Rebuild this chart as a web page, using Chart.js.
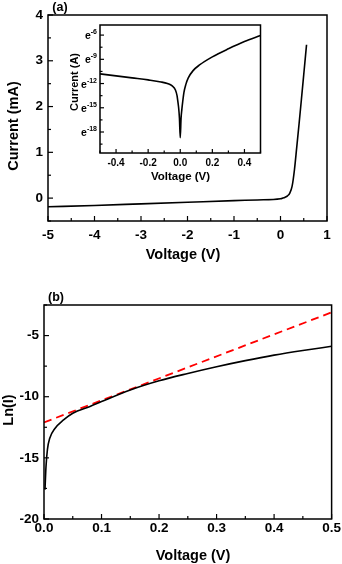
<!DOCTYPE html>
<html>
<head>
<meta charset="utf-8">
<script src="https://cdn.jsdelivr.net/npm/chart.js@4.4.1/dist/chart.umd.min.js"></script>
<style>
  body { margin: 0; background: #fff; }
  #wrap { position: relative; width: 342px; height: 564px; }
  canvas { position: absolute; }
  #ivChart { left: 0; top: 0; }
  #insetChart { left: 58px; top: 20px; }
  #lnChart { left: 0; top: 280px; }
</style>
</head>
<body>
<div id="wrap">
  <canvas id="ivChart" width="342" height="280"></canvas>
  <canvas id="insetChart" width="206" height="168"></canvas>
  <canvas id="lnChart" width="342" height="284"></canvas>
</div>
<script>
// (a) I-V curve, current in mA
const ivVoltage = [-5, -4, -3, -2, -1, -0.5, 0, 0.05, 0.1, 0.15, 0.2, 0.25, 0.3, 0.35, 0.4, 0.45, 0.5, 0.56];
const ivCurrent = [-0.19, -0.16, -0.125, -0.09, -0.055, -0.04, -0.015, 0.0, 0.02, 0.05, 0.11, 0.26, 0.62, 1.12, 1.63, 2.16, 2.7, 3.35];
const ivXTicks = [-5, -4, -3, -2, -1, 0, 1];
const ivYTicks = [0, 1, 2, 3, 4];

// inset: ln of current (A)
const insetVoltage = [-0.5, -0.4, -0.3, -0.2, -0.12, -0.08, -0.05, -0.03, -0.02, -0.015, -0.01, -0.005, 0, 0.005, 0.01, 0.015, 0.023, 0.035, 0.05, 0.08, 0.12, 0.2, 0.3, 0.4, 0.5];
const insetLn = [-10.8, -11.05, -11.3, -11.55, -11.8, -12.0, -12.3, -12.8, -13.5, -14.2, -15.0, -16.3, -18.7, -16.3, -15.2, -14.3, -13.1, -12.1, -11.3, -10.4, -9.7, -8.7, -7.7, -6.8, -6.05];
const insetXTicks = [-0.4, -0.2, 0, 0.2, 0.4];
const insetYTicks = [-6, -9, -12, -15, -18];

// (b) Ln(I) vs V with linear fit
const lnVoltage = [0.0017, 0.0035, 0.006, 0.01, 0.019, 0.034, 0.05, 0.08, 0.1, 0.15, 0.2, 0.25, 0.3, 0.35, 0.4, 0.45, 0.5];
const lnCurrent = [-17.6, -15.7, -14.3, -13.4, -12.6, -11.9, -11.35, -10.8, -10.4, -9.45, -8.7, -8.1, -7.55, -7.05, -6.6, -6.22, -5.88];
const fitVoltage = [0, 0.5];
const fitLn = [-12.1, -3.1];
const lnXTicks = [0, 0.1, 0.2, 0.3, 0.4, 0.5];
const lnYTicks = [-20, -15, -10, -5];

const FONT = "'Liberation Sans', Arial, sans-serif";
Chart.defaults.font.family = FONT;
Chart.defaults.font.weight = 'bold';
Chart.defaults.color = '#000';

const pts = (xs, ys) => xs.map((x, i) => ({ x: x, y: ys[i] }));
const noGrid = { display: false, drawTicks: false, tickLength: 0 };

// box around the plot with inward ticks on bottom and left
const framePlugin = {
  id: 'frame',
  afterDraw(chart, args, opts) {
    const { ctx, chartArea: a, scales } = chart;
    ctx.save();
    ctx.strokeStyle = '#000';
    ctx.lineWidth = 1.5;
    ctx.strokeRect(a.left, a.top, a.right - a.left, a.bottom - a.top);
    ctx.lineWidth = 1.2;
    const drawTicks = (scale, step, isX) => {
      const majors = scale.ticks.map(t => t.value);
      const k0 = Math.ceil(scale.min / step - 1e-9), k1 = Math.floor(scale.max / step + 1e-9);
      for (let k = k0; k <= k1; k++) {
        const v = k * step;
        const major = majors.some(m => Math.abs(m - v) < step / 10);
        const len = major ? opts.major : opts.minor;
        const p = scale.getPixelForValue(v);
        ctx.beginPath();
        if (isX) { ctx.moveTo(p, a.bottom); ctx.lineTo(p, a.bottom - len); }
        else { ctx.moveTo(a.left, p); ctx.lineTo(a.left + len, p); }
        ctx.stroke();
      }
    };
    drawTicks(scales.x, opts.xStep, true);
    drawTicks(scales.y, opts.yStep, false);
    ctx.restore();
  }
};

// free text: panel letters and axis titles
const textPlugin = {
  id: 'texts',
  afterDraw(chart, args, opts) {
    const ctx = chart.ctx;
    (opts.items || []).forEach(t => {
      ctx.save();
      ctx.font = 'bold ' + t.size + 'px ' + FONT;
      ctx.fillStyle = '#000';
      ctx.textAlign = 'center';
      ctx.textBaseline = 'middle';
      ctx.translate(t.x, t.y);
      if (t.rot) ctx.rotate(-Math.PI / 2);
      ctx.fillText(t.text, 0, 0);
      ctx.restore();
    });
  }
};

// y tick labels written as e with a raised exponent
const expTickPlugin = {
  id: 'expTicks',
  afterDraw(chart, args, opts) {
    const { ctx, chartArea: a, scales } = chart;
    const y = scales.y;
    ctx.save();
    ctx.fillStyle = '#000';
    ctx.textBaseline = 'alphabetic';
    y.ticks.forEach(t => {
      const py = y.getPixelForValue(t.value);
      const sup = String(t.value);
      ctx.font = 'bold ' + opts.supSize + 'px ' + FONT;
      const w = ctx.measureText(sup).width;
      const xr = a.left - opts.padding;
      ctx.textAlign = 'left';
      ctx.fillText(sup, xr - w, py - 1);
      ctx.font = 'bold ' + opts.size + 'px ' + FONT;
      ctx.textAlign = 'right';
      ctx.fillText('e', xr - w, py + 4);
    });
    ctx.restore();
  }
};

const blackLine = data => ({
  data: data,
  borderColor: '#000',
  borderWidth: 1.6,
  pointRadius: 0,
  fill: false,
  cubicInterpolationMode: 'monotone'
});

// ---------- (a) ----------
new Chart(document.getElementById('ivChart'), {
  type: 'line',
  data: { datasets: [blackLine(pts(ivVoltage, ivCurrent))] },
  plugins: [framePlugin, textPlugin],
  options: {
    responsive: false,
    animation: false,
    layout: { padding: { left: 0, right: 15, top: 15, bottom: 29 } },
    plugins: {
      legend: { display: false },
      tooltip: { enabled: false },
      frame: { xStep: 0.5, yStep: 0.5, major: 5, minor: 3 },
      texts: { items: [
        { text: '(a)', x: 60, y: 7.5, size: 12.5 },
        { text: 'Current (mA)', x: 14, y: 126, size: 14.5, rot: true },
        { text: 'Voltage (V)', x: 183, y: 254.5, size: 14.5 }
      ] }
    },
    scales: {
      x: {
        type: 'linear', min: -5, max: 1,
        afterBuildTicks: s => { s.ticks = ivXTicks.map(v => ({ value: v })); },
        afterFit: s => { s.height = 30; },
        grid: noGrid, border: { display: false },
        ticks: { font: { size: 13.5 }, padding: 6, maxRotation: 0, autoSkip: false }
      },
      y: {
        min: -0.5, max: 4,
        afterBuildTicks: s => { s.ticks = ivYTicks.map(v => ({ value: v })); },
        afterFit: s => { s.width = 48; },
        grid: noGrid, border: { display: false },
        ticks: { font: { size: 13.5 }, padding: 5 }
      }
    }
  }
});

// ---------- inset ----------
new Chart(document.getElementById('insetChart'), {
  type: 'line',
  data: { datasets: [blackLine(pts(insetVoltage, insetLn))] },
  plugins: [framePlugin, textPlugin, expTickPlugin],
  options: {
    responsive: false,
    animation: false,
    layout: { padding: { left: 0, right: 3.5, top: 5, bottom: 15 } },
    plugins: {
      legend: { display: false },
      tooltip: { enabled: false },
      frame: { xStep: 0.1, yStep: 1.5, major: 4, minor: 2.5 },
      expTicks: { size: 10.5, supSize: 7, padding: 3 },
      texts: { items: [
        { text: 'Current (A)', x: 17, y: 62, size: 11, rot: true },
        { text: 'Voltage (V)', x: 122.5, y: 157, size: 11.5 }
      ] }
    },
    scales: {
      x: {
        type: 'linear', min: -0.5, max: 0.5,
        afterBuildTicks: s => { s.ticks = insetXTicks.map(v => ({ value: v })); },
        afterFit: s => { s.height = 20; },
        grid: noGrid, border: { display: false },
        ticks: { font: { size: 10 }, padding: 4, maxRotation: 0, autoSkip: false,
                 callback: v => v.toFixed(1) }
      },
      y: {
        min: -20.6, max: -4.75,
        afterBuildTicks: s => { s.ticks = insetYTicks.map(v => ({ value: v })); },
        afterFit: s => { s.width = 42; },
        grid: noGrid, border: { display: false },
        ticks: { display: false }
      }
    }
  }
});

// ---------- (b) ----------
new Chart(document.getElementById('lnChart'), {
  type: 'line',
  data: {
    datasets: [
      blackLine(pts(lnVoltage, lnCurrent)),
      {
        data: pts(fitVoltage, fitLn),
        borderColor: '#ff0000',
        borderWidth: 1.8,
        borderDash: [8, 5],
        pointRadius: 0,
        fill: false
      }
    ]
  },
  plugins: [framePlugin, textPlugin],
  options: {
    responsive: false,
    animation: false,
    layout: { padding: { left: 0, right: 10, top: 25, bottom: 25 } },
    plugins: {
      legend: { display: false },
      tooltip: { enabled: false },
      frame: { xStep: 0.05, yStep: 2.5, major: 5, minor: 3 },
      texts: { items: [
        { text: '(b)', x: 56, y: 18, size: 12.5 },
        { text: 'Ln(I)', x: 9, y: 130, size: 14.5, rot: true },
        { text: 'Voltage (V)', x: 193, y: 276, size: 14.5 }
      ] }
    },
    scales: {
      x: {
        type: 'linear', min: 0, max: 0.5,
        afterBuildTicks: s => { s.ticks = lnXTicks.map(v => ({ value: v })); },
        afterFit: s => { s.height = 20; },
        grid: noGrid, border: { display: false },
        ticks: { font: { size: 13.5 }, padding: 1, maxRotation: 0, autoSkip: false,
                 callback: v => v.toFixed(1) }
      },
      y: {
        min: -20, max: -2.5,
        afterBuildTicks: s => { s.ticks = lnYTicks.map(v => ({ value: v })); },
        afterFit: s => { s.width = 44; },
        grid: noGrid, border: { display: false },
        ticks: { font: { size: 13.5 }, padding: 5 }
      }
    }
  }
});
</script>
</body>
</html>
